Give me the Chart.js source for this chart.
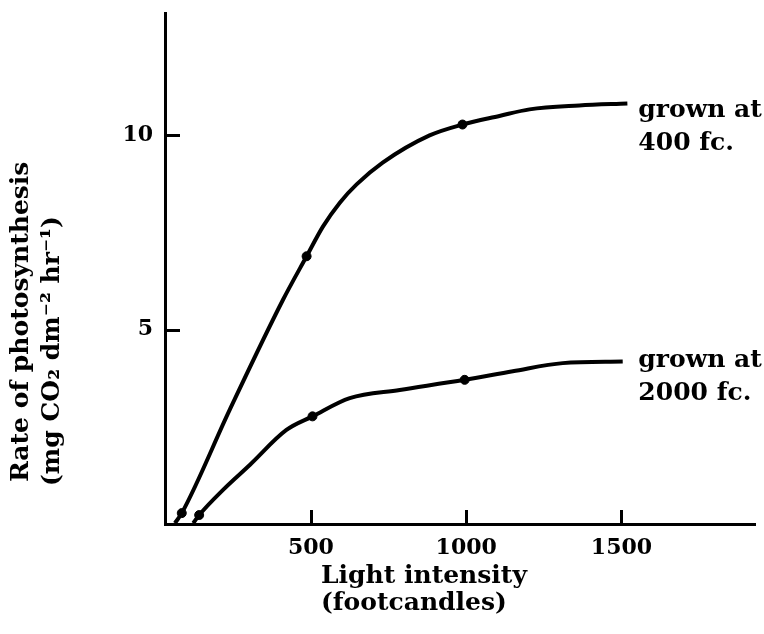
<!DOCTYPE html>
<html>
<head>
<meta charset="utf-8">
<script src="https://cdn.jsdelivr.net/npm/chart.js@4.4.1/dist/chart.umd.min.js"></script>
<style>
  html, body { margin: 0; padding: 0; background: #fff; }
</style>
</head>
<body>
<canvas id="photo-chart" width="764" height="634"></canvas>
<script>
// Curves (x = footcandles, y = mg CO2 dm-2 hr-1)
const grown400CurveX = [62, 84, 239, 410, 486, 539, 593, 647, 731, 882, 988, 1107, 1204, 1364, 1519];
const grown400CurveY = [0.02, 0.28, 2.95, 5.77, 6.89, 7.66, 8.27, 8.74, 9.30, 10.0, 10.28, 10.5, 10.67, 10.77, 10.82];
const grown400PointsX = [84, 486, 988];
const grown400PointsY = [0.28, 6.89, 10.28];

const grown2000CurveX = [121, 140, 217, 303, 421, 505, 625, 786, 995, 1150, 1311, 1504];
const grown2000CurveY = [0.02, 0.23, 0.88, 1.52, 2.42, 2.77, 3.24, 3.45, 3.71, 3.93, 4.14, 4.18];
const grown2000PointsX = [140, 505, 995];
const grown2000PointsY = [0.23, 2.77, 3.71];

const xTicks = [500, 1000, 1500];
const yTicks = [5, 10];

const curveLabels = [
  ["grown at", "400 fc."],
  ["grown at", "2000 fc."],
];
const xTitle = ["Light intensity", "(footcandles)"];
const yTitle = ["Rate of photosynthesis", "(mg CO\u2082 dm\u207B\u00B2 hr\u207B\u00B9)"];

const textFont = "bold 25px 'DejaVu Serif'";
const tickFont = { family: "'DejaVu Serif'", size: 22, weight: "bold" };

function toPoints(xs, ys) {
  return xs.map((x, i) => ({ x: x, y: ys[i] }));
}

function curveSet(xs, ys) {
  return {
    data: toPoints(xs, ys),
    showLine: true,
    borderColor: "#000",
    borderWidth: 4,
    pointRadius: 0,
    cubicInterpolationMode: "monotone",
    clip: false,
  };
}

function pointSet(xs, ys) {
  return {
    data: toPoints(xs, ys),
    showLine: false,
    backgroundColor: "#000",
    borderColor: "#000",
    pointRadius: 4.5,
    clip: false,
  };
}

// inward tick marks, like the hand drawn axes
const tickMarks = {
  id: "tickMarks",
  afterDraw(chart) {
    const { ctx, chartArea, scales } = chart;
    ctx.save();
    ctx.strokeStyle = "#000";
    ctx.lineWidth = 3;
    ctx.beginPath();
    xTicks.forEach((v) => {
      const px = Math.round(scales.x.getPixelForValue(v)) + 0.5;
      ctx.moveTo(px, chartArea.bottom);
      ctx.lineTo(px, chartArea.bottom - 14);
    });
    yTicks.forEach((v) => {
      const py = Math.round(scales.y.getPixelForValue(v)) + 0.5;
      ctx.moveTo(chartArea.left, py);
      ctx.lineTo(chartArea.left + 15, py);
    });
    ctx.stroke();
    ctx.restore();
  },
};

// curve labels and axis titles
const textLabels = {
  id: "textLabels",
  afterDraw(chart) {
    const { ctx, chartArea, scales } = chart;
    ctx.save();
    ctx.fillStyle = "#000";
    ctx.font = textFont;
    ctx.textAlign = "left";
    ctx.textBaseline = "alphabetic";

    const lastX = Math.max(grown400CurveX[grown400CurveX.length - 1], grown2000CurveX[grown2000CurveX.length - 1]);
    const labelLeft = scales.x.getPixelForValue(lastX) + 11;
    const ends = [
      [grown400CurveY[grown400CurveY.length - 1], 13],
      [grown2000CurveY[grown2000CurveY.length - 1], 5],
    ];
    ends.forEach(([ey, dy], i) => {
      const py = scales.y.getPixelForValue(ey) + dy;
      ctx.fillText(curveLabels[i][0], labelLeft, py);
      ctx.fillText(curveLabels[i][1], labelLeft, py + 33);
    });

    ctx.fillText(xTitle[0], chartArea.left + 156, chartArea.bottom + 59);
    ctx.fillText(xTitle[1], chartArea.left + 156, chartArea.bottom + 86);

    ctx.translate(28, chartArea.bottom - 42);
    ctx.rotate(-Math.PI / 2);
    ctx.fillText(yTitle[0], 0, 0);
    ctx.fillText(yTitle[1], -4, 31);
    ctx.restore();
  },
};

const ctx = document.getElementById("photo-chart").getContext("2d");
new Chart(ctx, {
  type: "scatter",
  data: {
    datasets: [
      curveSet(grown400CurveX, grown400CurveY),
      curveSet(grown2000CurveX, grown2000CurveY),
      pointSet(grown400PointsX, grown400PointsY),
      pointSet(grown2000PointsX, grown2000PointsY),
    ],
  },
  options: {
    responsive: false,
    animation: false,
    devicePixelRatio: 1,
    layout: { padding: { top: 13, right: 9, left: 0, bottom: 0 } },
    plugins: {
      legend: { display: false },
      tooltip: { enabled: false },
    },
    scales: {
      x: {
        type: "linear",
        min: 30,
        max: 1930,
        afterBuildTicks: (scale) => {
          scale.ticks = xTicks.map((v) => ({ value: v }));
        },
        afterFit: (scale) => {
          scale.height = 110;
          scale.paddingLeft = 0;
          scale.paddingRight = 0;
        },
        grid: { display: true, drawOnChartArea: false, drawTicks: false },
        border: { color: "#000", width: 3 },
        ticks: {
          color: "#000",
          padding: 11,
          maxRotation: 0,
          font: tickFont,
          callback: (v) => String(v),
        },
      },
      y: {
        type: "linear",
        min: 0,
        max: 13.15,
        afterBuildTicks: (scale) => {
          scale.ticks = yTicks.map((v) => ({ value: v }));
        },
        afterFit: (scale) => {
          scale.width = 165;
          scale.paddingTop = 0;
          scale.paddingBottom = 0;
        },
        grid: { display: true, drawOnChartArea: false, drawTicks: false },
        border: { color: "#000", width: 3 },
        ticks: {
          color: "#000",
          padding: 12,
          font: tickFont,
          callback: (v) => String(v),
        },
      },
    },
  },
  plugins: [tickMarks, textLabels],
});
</script>
</body>
</html>
